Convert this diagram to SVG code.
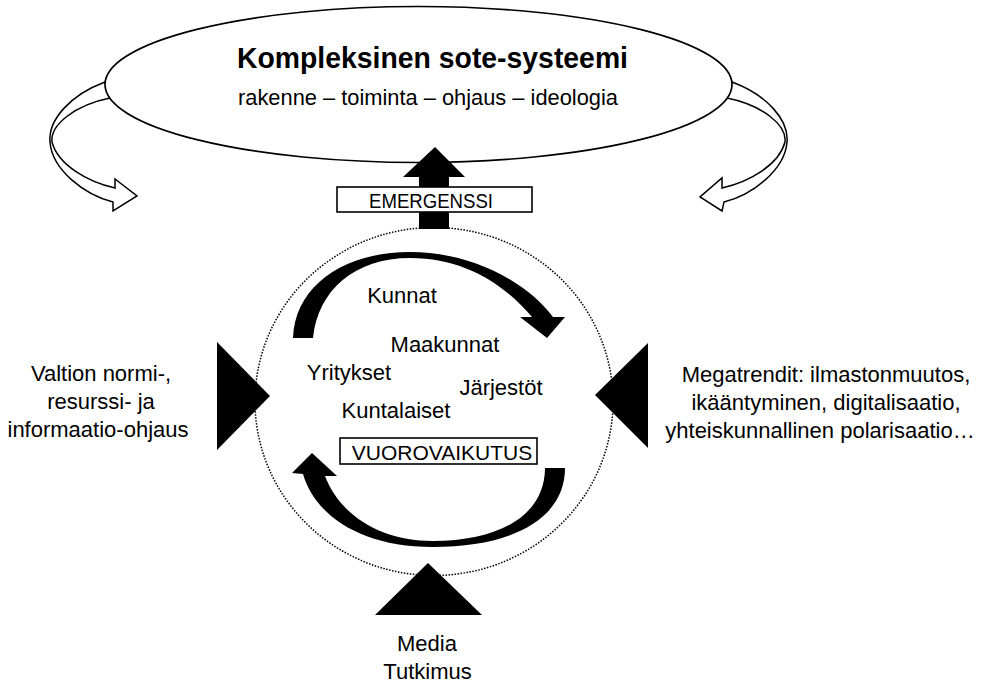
<svg xmlns="http://www.w3.org/2000/svg" width="985" height="684" viewBox="0 0 985 684">
<style>
text{font-family:"Liberation Sans",Arial,sans-serif;fill:#000}
.t{font-size:22px}
.s{font-size:21px}
.ribbon{fill:#fff;stroke:#000;stroke-width:1.5;stroke-linejoin:miter}
.solid{fill:#000;stroke:none}
.box{fill:#fff;stroke:#000;stroke-width:1.6}
</style>
<rect width="985" height="684" fill="#fff"/>
<g id="connectors">
  <path class="ribbon" d="M105,82 C70,95 48,120 50,142 C52,170 85,195 113,202 L113,211 L137,196 L115,179 L115,188 C88,182 58,165 52,142 C50,125 75,105 110,98 Z"/>
  <path class="ribbon" d="M732,82 C767,95 789,120 787,142 C785,170 752,195 724,202 L722,211 L700,197 L722,178 L722,188 C749,182 779,165 785,142 C787,125 762,105 727,98 Z"/>
</g>
<g id="system">
  <ellipse cx="418.5" cy="84.5" rx="313.5" ry="78" fill="#fff" stroke="#000" stroke-width="1.7"/>
  <text x="432.5" y="68" text-anchor="middle" textLength="391" lengthAdjust="spacingAndGlyphs" style="font-size:30px;font-weight:bold">Kompleksinen sote-systeemi</text>
  <text x="428" y="105" text-anchor="middle" class="t" textLength="380" lengthAdjust="spacingAndGlyphs">rakenne – toiminta – ohjaus – ideologia</text>
</g>
<g id="circle">
  <ellipse cx="434" cy="401.5" rx="179" ry="174" fill="none" stroke="#000" stroke-width="1.5" stroke-dasharray="1.5 1.5"/>
</g>
<g id="emergenssi">
  <path class="solid" d="M435,147 L465,177 L449,177 L449,229 L419,229 L419,177 L403,177 Z"/>
  <rect class="box" x="337" y="187" width="195" height="25"/>
  <text x="431" y="208" text-anchor="middle" textLength="124" lengthAdjust="spacingAndGlyphs" style="font-size:21px">EMERGENSSI</text>
</g>
<g id="cycle-top">
  <path class="solid" d="M293,338 C295,285 345,252 410,252 C470,252 525,280 553,317 L565,317 L547,338 L520,317 L532,317 C505,285 465,258 410,258 C355,258 318,290 313,338 Z"/>
</g>
<g id="cycle-bottom">
  <path class="solid" d="M565,468 C565,520 510,547 433,547 C360,547 315,515 303,474 L292,473 L312,453 L337,476 L325,476 C340,515 380,541 433,541 C500,541 545,515 545,468 Z"/>
</g>
<g id="actors">
  <text x="402" y="303" text-anchor="middle" class="t">Kunnat</text>
  <text x="445" y="352" text-anchor="middle" class="t">Maakunnat</text>
  <text x="349" y="380" text-anchor="middle" class="t">Yritykset</text>
  <text x="501" y="395" text-anchor="middle" class="t">Järjestöt</text>
  <text x="396" y="418" text-anchor="middle" class="t">Kuntalaiset</text>
</g>
<g id="vuorovaikutus">
  <rect class="box" x="340" y="438" width="197" height="26"/>
  <text x="442" y="460" text-anchor="middle" class="s">VUOROVAIKUTUS</text>
</g>
<g id="state">
  <path class="solid" d="M217,342 L217,450 L270,396 Z"/>
  <text x="101" y="381" text-anchor="middle" class="t">Valtion normi-,</text>
  <text x="101" y="409" text-anchor="middle" class="t">resurssi- ja</text>
  <text x="98" y="437" text-anchor="middle" class="t">informaatio-ohjaus</text>
</g>
<g id="megatrends">
  <path class="solid" d="M648,343 L648,448 L595,395 Z"/>
  <text x="826" y="382" text-anchor="middle" class="t">Megatrendit: ilmastonmuutos,</text>
  <text x="826" y="410" text-anchor="middle" class="t">ikääntyminen, digitalisaatio,</text>
  <text x="820" y="438" text-anchor="middle" class="t">yhteiskunnallinen polarisaatio…</text>
</g>
<g id="media">
  <path class="solid" d="M428,563 L482,615 L375,615 Z"/>
  <text x="427" y="651" text-anchor="middle" class="t">Media</text>
  <text x="427.5" y="679" text-anchor="middle" class="t">Tutkimus</text>
</g>
</svg>
